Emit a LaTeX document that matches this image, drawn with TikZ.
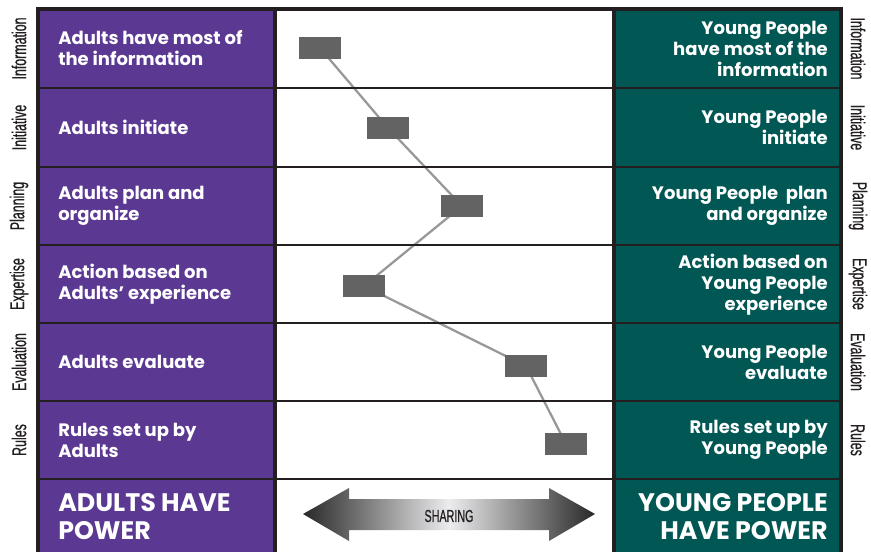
\documentclass[tikz,border=0pt]{standalone}
\usepackage{fontspec}
\setmainfont{Poppins}
\newfontfamily\sidefont[FakeStretch=0.62, FakeBold=0.6]{Liberation Sans}
\usepackage{xcolor}
\usepackage{tikz}
\usetikzlibrary{positioning, calc, backgrounds}
\definecolor{AdultPurple}{RGB}{91,56,146}
\definecolor{YouthTeal}{RGB}{0,87,83}
\definecolor{FrameDark}{RGB}{35,31,32}
\definecolor{MarkGray}{RGB}{99,99,99}
\definecolor{PathGray}{RGB}{152,152,152}
\definecolor{ArrowDark}{RGB}{40,40,40}
\definecolor{ArrowLight}{RGB}{236,236,238}
\tikzset{
    adulttext/.style={
        anchor=west, align=left, text=white, inner sep=0pt,
        font=\bfseries\fontsize{13.5}{15.75}\selectfont
    },
    youthtext/.style={
        anchor=east, align=right, text=white, inner sep=0pt,
        font=\bfseries\fontsize{13.5}{15.75}\selectfont
    },
    sidelabel/.style={
        text=FrameDark, inner sep=0pt,
        font=\sidefont\fontsize{15}{16}\selectfont
    }
}

\begin{document}
\begin{tikzpicture}[
            x=0.75pt, y=-0.75pt,
            % Style cho o danh dau
            marker/.style={
                rectangle, fill=MarkGray, inner sep=0pt,
                minimum width=31.5pt, minimum height=17pt
            },
            % Style duong noi
            pathline/.style={draw=PathGray, line width=1.7pt},
            % Style khung
            framebox/.style={draw=FrameDark, line width=2.3pt},
            gridline/.style={draw=FrameDark, line width=1.8pt},
            powertext/.style={
                text=white, inner sep=0pt,
                font=\bfseries\fontsize{19}{21}\selectfont
            }
        ]
            \useasboundingbox (0,0) rectangle (871,552);
            \clip (0,0) rectangle (871,552);

            % --- 1. NEN VA KHUNG ---
            \fill[AdultPurple] (38,9) rectangle (275,560);
            \fill[YouthTeal] (614,9) rectangle (841,560);
            \foreach \y in {88,167,245,323,401,479}
                \draw[gridline] (38,\y) -- (841,\y);
            \draw[framebox] (38,560) -- (38,9) -- (841,9) -- (841,560);
            \draw[framebox] (275,9) -- (275,560);
            \draw[framebox] (614,9) -- (614,560);

            % --- 2. NHAN BEN CANH ---
            \foreach \n/\y/\lab in {1/48.5/Information, 2/127.5/Initiative,
                3/206/Planning, 4/284/Expertise, 5/362/Evaluation, 6/440/Rules} {
                \node[sidelabel, rotate=90] (sl\n) at (19,\y) {\lab};
                \node[sidelabel, rotate=-90] (sr\n) at (858,\y) {\lab};
            }

            % --- 3. NOI DUNG CAC HANG ---
            \node[adulttext] (a1) at (58,48.5) {Adults have most of\\the information};
            \node[adulttext] (a2) at (58,127.5) {Adults initiate};
            \node[adulttext] (a3) at (58,206) {Adults plan and\\organize};
            \node[adulttext] (a4) at (58,284) {Action based on\\Adults’ experience};
            \node[adulttext] (a5) at (58,362) {Adults evaluate};
            \node[adulttext] (a6) at (58,440) {Rules set up by\\Adults};

            \node[youthtext] (y1) at (828,49) {Young People\\have most of the\\information};
            \node[youthtext] (y2) at (828,127.5) {Young People\\initiate};
            \node[youthtext] (y3) at (828,206) {Young People\ \ plan\\and organize};
            \node[youthtext] (y4) at (828,285) {Action based on\\Young People\\experience};
            \node[youthtext] (y5) at (828,362.5) {Young People\\evaluate};
            \node[youthtext] (y6) at (828,440) {Rules set up by\\Young People};

            \node[powertext, anchor=west, align=left] (adultpower) at (58,517) {ADULTS HAVE\\POWER};
            \node[powertext, anchor=east, align=right] (youthpower) at (828,517) {YOUNG PEOPLE\\HAVE POWER};

            % --- 4. DUONG DANH DAU ---
            \foreach \n/\x/\y in {1/320/48, 2/388/128, 3/462/206, 4/364/286, 5/526/366, 6/566/444}
                \node[marker] (m\n) at (\x,\y) {};
            \begin{scope}[on background layer]
                \fill[white] (0,0) rectangle (871,552);
                \draw[pathline] (m1.center) -- (m2.center) -- (m3.center)
                    -- (m4.center) -- (m5.center) -- (m6.center);
            \end{scope}

            % --- 5. MUI TEN CHIA SE ---
            \shade[left color=ArrowDark, right color=ArrowDark, middle color=ArrowLight]
                (303,514) -- (349,488) -- (349,499) -- (549,499) -- (549,488)
                -- (595,514) -- (549,541) -- (549,530) -- (349,530) -- (349,541) -- cycle;
            \node[sidelabel, font=\sidefont\fontsize{13}{14}\selectfont] (sharing) at (449,516) {SHARING};

        \end{tikzpicture}
\end{document}
